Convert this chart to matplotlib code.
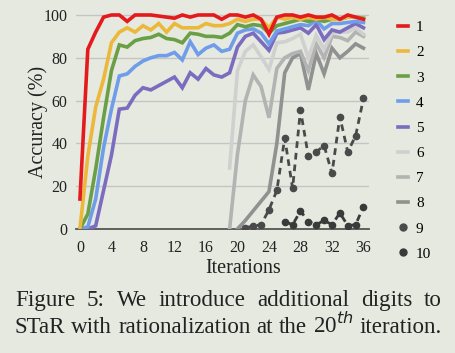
import numpy as np
import matplotlib
matplotlib.use("Agg")
import matplotlib.pyplot as plt
from matplotlib.lines import Line2D

plt.rcParams['font.family'] = ['Liberation Serif', 'DejaVu Serif']

iterations = list(range(37))
xticks = [0, 4, 8, 12, 16, 20, 24, 28, 32, 36]
yticks = [0, 20, 40, 60, 80, 100]
labels = ["1", "2", "3", "4", "5", "6", "7", "8", "9", "10"]

s1 = [14, 84, 92, 99, 100, 100, 97, 100, 100, 100, 99.5, 99, 98.5, 100, 99, 100, 100, 100, 98, 100, 100, 99, 100, 98, 91, 99, 100, 100, 99, 100, 99, 99, 100, 98, 100, 99, 98]
s2 = [0, 34, 57, 70, 87, 92, 94, 92, 95, 93, 96, 92, 96, 94, 94, 94, 96, 95, 95, 96, 98, 97, 98, 98, 94, 99, 98, 99, 98, 99, 98, 99, 98, 98, 99, 99, 98]
s3 = [0, 7, 28, 52, 74, 86, 85, 88, 89, 89.5, 91, 89, 88.5, 87, 91.5, 91, 90, 90, 89.5, 91.5, 95.5, 94.5, 95.5, 95, 91.5, 95, 96, 97, 98, 97, 98, 97, 98, 98, 99, 99, 98.5]
s4 = [0, 1, 14, 38, 56, 71.5, 72.5, 76, 78.5, 80, 81, 81, 82.5, 79, 87.5, 81.5, 84.5, 86, 83, 84, 91.5, 93, 93.5, 91.5, 86.5, 92.5, 93.5, 94.5, 95.5, 95, 97.5, 93.5, 96, 96, 96.5, 97, 96.5]
s5 = [0, 0, 1.5, 18, 34.5, 56, 56.5, 62.5, 66, 65, 67, 69, 71, 66, 73, 70, 75, 72, 71, 73, 85, 90, 91.5, 87.5, 83.5, 91.5, 92, 93, 94, 91.5, 95.5, 88.5, 93, 92, 94, 96, 94]
s6_start = 19
s6 = [28.5, 74, 83, 86, 80.5, 74.5, 87, 87.5, 89, 91, 80, 90.5, 84, 91.5, 92, 92, 94, 91]
s7_start = 19
s7 = [0, 35, 60, 72, 66.5, 52, 75, 80, 82, 83, 74, 86.5, 80, 90, 89.5, 88, 92, 90]
s8_start = 20
s8 = [0, 4, 8.5, 13, 17.5, 40, 73, 80, 82, 65, 82, 72.5, 84.5, 80, 83, 86.5, 84.5]
s9_start = 21
s9 = [0.6, 1.4, 2, 9, 18, 42.5, 19, 55.6, 34, 36, 39, 26, 52.5, 36, 43.5, 61]
s10_start = 26
s10 = [3.5, 2, 8.4, 3.5, 2, 4, 2, 7.5, 1.6, 2, 10.5]

caption1 = ["Figure", "5:", "We", "introduce", "additional", "digits", "to"]
caption2 = ["STaR", "with", "rationalization", "at", "the", "20$^{th}$", "iteration."]

colors = ["#e41a1c", "#ebb83b", "#6b9f45", "#6f9de9", "#7c6cc0",
          "#d0d0d0", "#b3b3b3", "#919191", "#4a4a4a", "#3a3a3a"]
bg = "#e6e9e0"

fig = plt.figure(figsize=(4.55, 3.53), dpi=100, facecolor=bg)
ax = fig.add_axes([76/455, (353-229)/353, 293/455, 218.3/353], facecolor=bg)

series = [(0, s1), (0, s2), (0, s3), (0, s4), (0, s5),
          (s6_start, s6), (s7_start, s7), (s8_start, s8)]
handles = []
for i, (st, vals) in enumerate(series):
    xs = iterations[st:st+len(vals)]
    ax.plot(xs, vals, color=colors[i], lw=2.6, solid_joinstyle='miter', zorder=10-i)
    handles.append(Line2D([0], [0], color=colors[i], lw=2.6))

for j, (st, vals) in enumerate([(s9_start, s9), (s10_start, s10)]):
    xs = iterations[st:st+len(vals)]
    ax.plot(xs, vals, color=colors[8+j], lw=2.0, ls=(0, (2.4, 1.8)),
            marker='o', ms=4.5, zorder=3)
    handles.append(Line2D([0], [0], color=colors[8+j], ls='none', marker='o', ms=5))

ax.set_xlim(-0.5, 36.7)
ax.set_ylim(0, 102)
ax.set_xticks(xticks)
ax.set_yticks(yticks)
ax.tick_params(axis='both', length=0, labelsize=11.5, colors="#222222")
ax.tick_params(axis='x', pad=8)
ax.tick_params(axis='y', pad=6)
ax.grid(axis='y', color="#c4c4c4", lw=1.0)
ax.set_axisbelow(True)
for sp in ['top', 'right', 'left']:
    ax.spines[sp].set_visible(False)
ax.spines['bottom'].set_color("#555555")
ax.spines['bottom'].set_linewidth(1.3)
ax.set_xlabel("Iterations", fontsize=14.5, color="#222222")
ax.set_ylabel("Accuracy (%)", fontsize=14.5, color="#222222")
ax.xaxis.set_label_coords(0.57, -0.138)
ax.yaxis.set_label_coords(-0.097, 0.49)

fig.legend(handles, labels, loc='upper left', bbox_to_anchor=(390/455, 1-13/353),
           frameon=False, fontsize=11, handlelength=0.7, handletextpad=0.5,
           labelspacing=0.75, borderpad=0)

# justified caption
renderer = fig.canvas.get_renderer()
x_left, x_right = 15, 442
for words, base in [(caption1, 306), (caption2, 333)]:
    texts = [fig.text(0, 1 - base/353, w, fontsize=16.6, color="#222222",
                      ha='left', va='baseline') for w in words]
    widths = [t.get_window_extent(renderer).width for t in texts]
    gap = (x_right - x_left - sum(widths)) / (len(words) - 1)
    x = x_left
    for t, w in zip(texts, widths):
        t.set_x(x / 455)
        x += w + gap

fig.savefig("out.png", dpi=100, facecolor=bg)
